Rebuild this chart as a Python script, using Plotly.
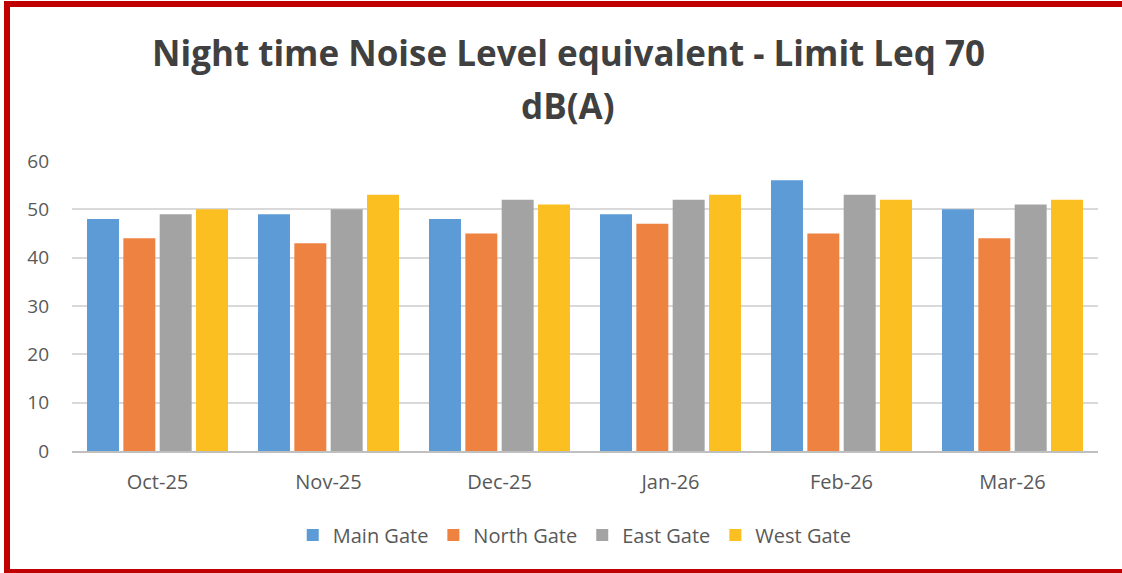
import plotly.graph_objects as go

# data
months = ["Oct-25", "Nov-25", "Dec-25", "Jan-26", "Feb-26", "Mar-26"]
main_gate = [48, 49, 48, 49, 56, 50]
north_gate = [44, 43, 45, 47, 45, 44]
east_gate = [49, 50, 52, 52, 53, 51]
west_gate = [50, 53, 51, 53, 52, 52]
title_lines = ["Night time Noise Level equivalent - Limit Leq 70", "dB(A)"]

series = [
    ("Main Gate", main_gate, "#5d9bd6"),
    ("North Gate", north_gate, "#ee8240"),
    ("East Gate", east_gate, "#a3a3a3"),
    ("West Gate", west_gate, "#fbbf22"),
]

W, H = 1122, 573
ML, MR, MT, MB = 72, 24, 161, 122
PW, PH = W - ML - MR, H - MT - MB


def px_x(p):
    return (p - ML) / PW


def px_y(p):
    return (H - MB - p) / PH


fig = go.Figure()
for name, vals, col in series:
    fig.add_trace(go.Bar(
        x=months, y=vals, name=name,
        marker=dict(color=col, line=dict(width=0)),
    ))

font = "Open Sans, DejaVu Sans, sans-serif"
red = "#c00000"
fig.update_layout(
    width=W, height=H,
    margin=dict(l=ML, r=MR, t=MT, b=MB),
    paper_bgcolor="white", plot_bgcolor="white",
    barmode="group", bargap=0.15, bargroupgap=0.12,
    font=dict(family=font, size=19, color="#595959"),
    legend=dict(
        orientation="h", x=0.49, xanchor="center",
        y=px_y(535), yanchor="middle",
        font=dict(size=20, color="#595959"),
        itemwidth=30, traceorder="normal",
    ),
    xaxis=dict(
        showgrid=False, showline=True, linecolor="#bfbfbf", linewidth=2,
        ticks="", tickfont=dict(size=20), ticklabelstandoff=12,
    ),
    yaxis=dict(
        range=[0, 60], dtick=10, showgrid=True, gridcolor="#d9d9d9",
        gridwidth=2, zeroline=False, showline=False, ticks="",
        ticklabelstandoff=22, tickfont=dict(size=19),
    ),
    annotations=[
        dict(text=f"<b>{t}</b>", xref="paper", yref="paper",
             x=px_x(568), y=px_y(yc), xanchor="center", yanchor="middle",
             showarrow=False,
             font=dict(family=font, size=35, color="#404040"))
        for t, yc in zip(title_lines, [53, 106])
    ],
    shapes=[
        dict(type="line", xref="paper", yref="paper",
             x0=px_x(7), x1=px_x(W + 5), y0=px_y(4), y1=px_y(4),
             line=dict(color=red, width=6)),
        dict(type="line", xref="paper", yref="paper",
             x0=px_x(7), x1=px_x(7), y0=px_y(1), y1=px_y(H + 3),
             line=dict(color=red, width=6)),
        dict(type="line", xref="paper", yref="paper",
             x0=px_x(7), x1=px_x(W + 5), y0=px_y(571), y1=px_y(571),
             line=dict(color=red, width=4)),
    ],
)

fig.write_html(
    "out.html",
    config={"displayModeBar": False},
    post_script="document.body.style.margin='0px';",
)
